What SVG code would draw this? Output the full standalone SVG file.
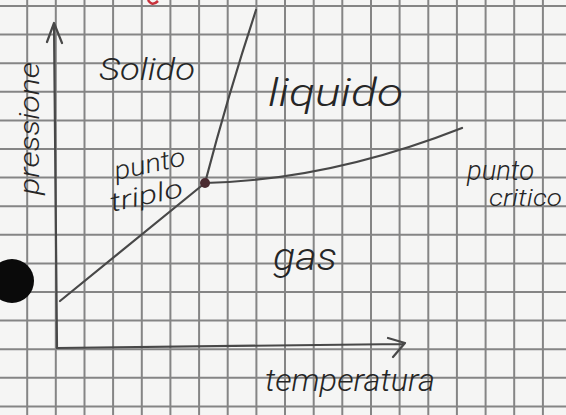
<svg xmlns="http://www.w3.org/2000/svg" width="566" height="415" viewBox="0 0 566 415">
<style>
.grid{stroke:#858585;stroke-width:2;fill:none}
.pen{stroke:#484848;stroke-width:2.2;fill:none;stroke-linecap:round;stroke-linejoin:round}
.hand{font-family:Roboto,"DejaVu Sans",sans-serif;font-style:italic;font-weight:300;fill:#262626}
</style>
<rect width="566" height="415" fill="#f5f5f4"/>
<g id="grid">
<path class="grid" d="M27.2,0V415M55.8,0V415M84.5,0V415M113.1,0V415M141.8,0V415M170.4,0V415M199.1,0V415M227.7,0V415M256.4,0V415M285,0V415M313.7,0V415M342.3,0V415M371,0V415M399.6,0V415M428.3,0V415M456.9,0V415M485.6,0V415M514.2,0V415M542.9,0V415"/>
<path class="grid" d="M0,6H566M0,34.6H566M0,63.2H566M0,91.8H566M0,120.4H566M0,149H566M0,177.6H566M0,206.2H566M0,234.8H566M0,263.4H566M0,292H566M0,320.6H566M0,349.2H566M0,377.8H566M0,406.4H566"/>
</g>
<g id="hole"><circle cx="12" cy="281" r="22" fill="#0a0a0a"/></g>
<g id="red-mark"><path d="M148,0 Q152,7 158,1" stroke="#c8323c" stroke-width="2.5" fill="none"/></g>
<g id="connectors">
<path id="axis-p" class="pen" d="M57,348 L54,24 M47,42 L54,23 L62,43"/>
<path id="axis-t" class="pen" d="M57,348 L404,344 M388,338 L405,343 L393,357"/>
<path id="sublimation" class="pen" d="M60,301 L205,183"/>
<path id="fusion" class="pen" d="M205,183 Q228,95 256,10"/>
<path id="vaporization" class="pen" d="M205,183 Q330,180 462,128"/>
</g>
<g id="triple-point"><circle cx="205" cy="183" r="5" fill="#4a2a30"/></g>
<g id="labels">
<text class="hand" transform="translate(39,195) rotate(-90)" font-size="27" textLength="133" lengthAdjust="spacingAndGlyphs">pressione</text>
<text id="solido" class="hand" x="99" y="80" font-size="32" textLength="96" lengthAdjust="spacingAndGlyphs">Solido</text>
<text id="liquido" class="hand" x="268" y="106" font-size="38" textLength="135" lengthAdjust="spacingAndGlyphs">liquido</text>
<text id="gas" class="hand" x="273" y="270" font-size="38" textLength="64" lengthAdjust="spacingAndGlyphs">gas</text>
<text id="temperatura" class="hand" x="265" y="391" font-size="32" textLength="170" lengthAdjust="spacingAndGlyphs">temperatura</text>
<g transform="rotate(-12 150 180)">
<text class="hand" x="117" y="173" font-size="26" textLength="72" lengthAdjust="spacingAndGlyphs">punto</text>
<text class="hand" x="106" y="203" font-size="26" textLength="74" lengthAdjust="spacingAndGlyphs">triplo</text>
</g>
<text class="hand" x="467" y="180" font-size="28" textLength="67" lengthAdjust="spacingAndGlyphs">punto</text>
<text class="hand" x="489" y="206" font-size="24" textLength="73" lengthAdjust="spacingAndGlyphs">critico</text>
</g>
</svg>
